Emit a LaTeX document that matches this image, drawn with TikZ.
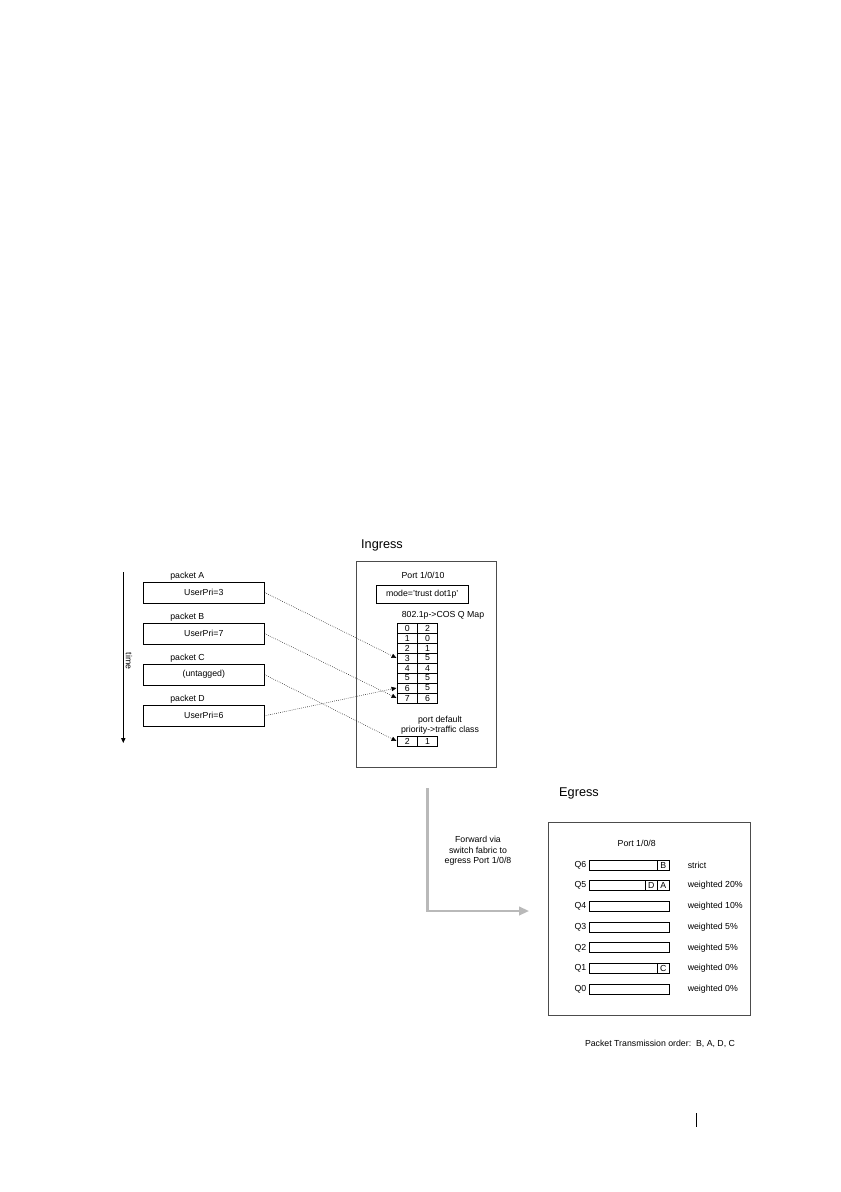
\documentclass[tikz,border=0pt]{standalone}
\usepackage{fontspec}
\setmainfont{Liberation Sans}
\usetikzlibrary{arrows.meta}
\newlength{\pxu}
\setlength{\pxu}{0.7083pt}
\begin{document}
\begin{tikzpicture}[x=\pxu, y=-\pxu,
	every node/.style={font=\fontsize{6.2}{7}\selectfont, inner sep=0pt},
	title/.style={font=\fontsize{9}{10}\selectfont},
	pbox/.style={draw, line width=0.5pt, minimum width=121\pxu, minimum height=21\pxu},
	frame/.style={draw=black!70, line width=0.5pt},
	cell/.style={draw, line width=0.5pt},
	map/.style={densely dotted, line width=0.4pt, -{Triangle[length=3.5pt,width=3pt]}}]
\useasboundingbox (0,0) rectangle (840,1192);
% time axis
\draw[line width=0.6pt, -{Triangle[length=3.5pt,width=3pt]}] (123.3,572) -- (123.3,743);
\node[rotate=-90] (time) at (129,661) {time};
% packets
\foreach \p/\t [count=\i from 0] in {A/UserPri=3, B/UserPri=7, C/(untagged), D/UserPri=6}
{
	\node[pbox] (p\p) at (203.8,{592.5+41.1*\i}) {\t};
	\node[anchor=base west] (l\p) at (170,{578.5+41.1*\i}) {packet \p};
}
% ingress
\node[title] (ingress) at (382,545) {Ingress};
\draw[frame] (356,561.7) rectangle (496.7,767.3);
\node (port10) at (423,575) {Port 1/0/10};
\node[cell, minimum width=92\pxu, minimum height=18\pxu] (mode) at (422.2,594) {mode='trust dot1p'};
\node (qmap) at (443,615) {802.1p->COS Q Map};
\foreach \a/\b [count=\i from 0] in {0/2,1/0,2/1,3/5,4/4,5/5,6/5,7/6}
{
	\draw[cell] (397,{623+10*\i}) rectangle (437.5,{633+10*\i});
	\draw[line width=0.5pt] (417.5,{623+10*\i}) -- (417.5,{633+10*\i});
	\node (k\i) at (407.2,{628+10*\i}) {\a};
	\node (c\i) at (427.5,{628+10*\i}) {\b};
	\coordinate (r\i) at (396.5,{628+10*\i});
}
\node (pdef1) at (440,720.5) {port default};
\node (pdef2) at (440,730.5) {priority->traffic class};
\draw[cell] (397,736) rectangle (437.5,746);
\draw[line width=0.5pt] (417.5,736) -- (417.5,746);
\node (dk) at (407.2,741) {2};
\node (dc) at (427.5,741) {1};
\coordinate (rdef) at (396.5,741);
% mapping
\draw[map] (pA.east) -- (r3);
\draw[map] (pB.east) -- (r7);
\draw[map] (pC.east) -- (rdef);
\draw[map] (pD.east) -- (r6);
% forward
\coordinate (fwdtop) at (427.5,788);
\coordinate (fwdcorner) at (427.5,911);
\coordinate (fwdend) at (529,911);
\draw[gray!55, line width=1.5pt, -{Triangle[length=7pt,width=6pt]}] (fwdtop) -- (fwdcorner) -- (fwdend);
\node[align=center, font=\fontsize{6.2}{7.3}\selectfont] (fwd) at (478,851) {Forward via\\switch fabric to\\egress Port 1/0/8};
% egress
\node[title] (egress) at (579,793) {Egress};
\draw[frame] (548.3,822.7) rectangle (750.7,1015);
\node (port8) at (636.7,843.3) {Port 1/0/8};
\foreach \q/\w [count=\i from 0] in {6/strict, 5/weighted 20\%, 4/weighted 10\%, 3/weighted 5\%, 2/weighted 5\%, 1/weighted 0\%, 0/weighted 0\%}
{
	\draw[cell] (589.3,{860+20.7*\i}) rectangle (669.3,{870+20.7*\i});
	\node[anchor=east] (q\q) at (586.5,{865+20.7*\i}) {Q\q};
	\node[anchor=west] (w\q) at (687.5,{865+20.7*\i}) {\w};
}
\foreach \x/\y/\t/\n in {657.3/860/B/sb, 645.3/880.7/D/sd, 657.3/880.7/A/sa, 657.3/963.5/C/sc}
{
	\draw[cell] (\x,\y) rectangle (\x+12,\y+10);
	\node (\n) at (\x+6,\y+5) {\t};
}
\node (order) at (660,1043.5) {Packet Transmission order:~~B, A, D, C};
% page mark
\draw[line width=0.8pt] (696.3,1113) -- (696.3,1127);
\end{tikzpicture}
\end{document}
